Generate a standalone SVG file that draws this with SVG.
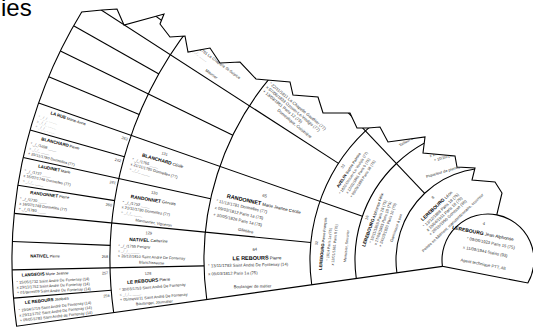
<svg xmlns="http://www.w3.org/2000/svg" width="533" height="329" viewBox="0 0 533 329">
<defs>
<style>
text{font-family:"Liberation Sans",Arial,sans-serif}
.ln{fill:none;stroke:#000;stroke-width:1.1}
.sn{font-weight:700;fill:#000}
.gn{fill:#000}
.d{fill:#333}
.ph{fill:#999}
.nm{fill:#333}
.m{text-anchor:middle}
.e{text-anchor:end}
</style>
<clipPath id="fan" clipPathUnits="userSpaceOnUse">
<path d="M488 260 L16.63 326.25 A476 476 0 0 1 81.71 12 L102 10 L117 9 L124 25 L157 16 L164 14 L160 24 L170 37 L185 36 L188 52 L210 48 L220 63 L240 62 L256 79 L267 80 L290 82 L293 95 L318 97 L323 113 L350 113 L357 128 L368 128 L380 127 L388 142 L425 137 L423 153 L455 156 L457 167 L475 168 L472 180 L495 182 L502 193 L496.78 214.85 Z"/>
</clipPath>
</defs>
<rect width="533" height="329" fill="#fff"/>
<text x="1" y="16" font-size="24" fill="#000">ies</text>

<g clip-path="url(#fan)">
<g transform="translate(488 260)">
<g id="connectors" class="ln">
<path d="M-91.10 12.80 A92 92 0 0 1 17.55 -90.31"/>
<path d="M-131.71 18.51 A133 133 0 0 1 25.38 -130.56"/>
<path d="M-176.27 24.77 A178 178 0 0 1 33.96 -174.73"/>
<path d="M-281.24 39.52 A284 284 0 0 1 54.19 -278.78"/>
<path d="M-374.32 52.61 A378 378 0 0 1 72.13 -371.06"/>
<path d="M-63.33 -66.73 L-327.66 -345.28"/>
<path d="M-125.56 -43.85 L-449.39 -156.93"/>
<path d="M-37.22 -127.69 L-133.20 -456.98"/>
<path d="M-177.14 -17.45 L-473.71 -46.66"/>
<path d="M-149.50 -96.62 L-399.77 -258.37"/>
<path d="M-88.66 -154.35 L-237.10 -412.74"/>
<path d="M-8.15 -177.81 L-21.80 -475.50"/>
<path d="M-283.94 5.89 L-475.90 9.86"/>
<path d="M-277.34 -61.17 L-464.83 -102.52"/>
<path d="M-255.13 -124.76 L-427.61 -209.10"/>
<path d="M-218.56 -181.35 L-366.32 -303.95"/>
<path d="M-169.73 -227.71 L-284.47 -381.65"/>
<path d="M-376.79 30.28 L-474.47 38.12"/>
<path d="M-377.72 -14.64 L-475.64 -18.43"/>
<path d="M-373.31 -59.34 L-470.10 -74.72"/>
<path d="M-363.64 -103.19 L-457.92 -129.95"/>
<path d="M-348.83 -145.60 L-439.27 -183.35"/>
<path d="M-329.10 -185.94 L-414.43 -234.15"/>
<path d="M-304.72 -223.67 L-383.73 -281.66"/>
<path d="M-276.04 -258.24 L-347.60 -325.19"/>
</g>

<!-- generation 6 -->
<g id="p256" transform="rotate(-6.297)" font-size="3.8">
<text class="m" x="-443" y="-7"><tspan class="sn" font-size="4.4">LE REBOURS</tspan><tspan class="gn"> Jacques</tspan></text>
<text class="nm e" x="-380" y="-5">256</text>
<text class="d" x="-472" y="0">° 19/04/1719 Saint André De Fontenay (14)</text>
<text class="d" x="-472" y="5">x 29/11/1752 Saint André De Fontenay (14)</text>
<text class="d" x="-472" y="10">+ 09/05/1783 Saint André de Fontenay (14)</text>
</g>
<g id="p257" transform="rotate(-2.891)" font-size="3.8">
<text class="m" x="-443" y="-7"><tspan class="sn" font-size="4.4">LANGEOIS</tspan><tspan class="gn"> Marie Jeanne</tspan></text>
<text class="nm e" x="-380" y="-5">257</text>
<text class="d" x="-472" y="0">° 15/05/1732 Saint André De Fontenay (14)</text>
<text class="d" x="-472" y="5">x 29/11/1752 Saint André De Fontenay (14)</text>
<text class="d" x="-472" y="10">+ 01/germ/09 Saint André De Fontenay (14)</text>
</g>
<g id="p258" transform="rotate(0.516)" font-size="3.8">
<text class="m" x="-443" y="1.5"><tspan class="sn" font-size="4.4">NATIVEL</tspan><tspan class="gn"> Pierre</tspan></text>
<text class="nm e" x="-380" y="1.5">258</text>
</g>
<g id="p260" transform="rotate(7.328)" font-size="3.8">
<text class="m" x="-443" y="-7"><tspan class="sn" font-size="4.4">RANDONNET</tspan><tspan class="gn"> Pierre</tspan></text>
<text class="nm e" x="-380" y="-5">260</text>
<text class="d" x="-472" y="0">° _/_/1720 <tspan class="ph">____</tspan></text>
<text class="d" x="-472" y="5">x 16/07/1748 Dormelles (77)</text>
<text class="d" x="-472" y="10">+ _/_/1780 <tspan class="ph">____</tspan></text>
</g>
<g id="p261" transform="rotate(10.734)" font-size="3.8">
<text class="m" x="-443" y="-7"><tspan class="sn" font-size="4.4">LAUDINET</tspan><tspan class="gn"> Marie</tspan></text>
<text class="nm e" x="-380" y="-5">261</text>
<text class="d" x="-472" y="0">° _/_/1727 <tspan class="ph">____</tspan></text>
<text class="d" x="-472" y="5">x 16/07/1748 Dormelles (77)</text>
<text class="ph" x="-472" y="10">+ _/_/_ ____</text>
</g>
<g id="p262" transform="rotate(14.141)" font-size="3.8">
<text class="m" x="-443" y="-7"><tspan class="sn" font-size="4.4">BLANCHARD</tspan><tspan class="gn"> Pierre</tspan></text>
<text class="nm e" x="-380" y="-5">262</text>
<text class="d" x="-472" y="0">° _/_/1698 <tspan class="ph">____</tspan></text>
<text class="ph" x="-472" y="5">x _/_/_ ____</text>
<text class="d" x="-472" y="10">+ 29/11/1780 Dormelles (77)</text>
</g>
<g id="p263" transform="rotate(17.547)" font-size="3.8">
<text class="m" x="-443" y="-7"><tspan class="sn" font-size="4.4">LA RUE</tspan><tspan class="gn"> Marie-Anne</tspan></text>
<text class="nm e" x="-380" y="-5">263</text>
<text class="ph" x="-472" y="0">° _/_/_ ____</text>
<text class="ph" x="-472" y="5">x _/_/_ ____</text>
<text class="ph" x="-472" y="10">+ _/_/_ ____</text>
</g>

<!-- generation 5 -->
<g id="p128" transform="rotate(-4.594)" font-size="3.9">
<text class="nm m" x="-340" y="-12.5">128</text>
<text class="m" x="-340" y="-5"><tspan class="sn" font-size="4.8">LE REBOURS</tspan><tspan class="gn" font-size="4"> Pierre</tspan></text>
<text class="d" x="-370" y="1.5">° 30/03/1753 Saint André De Fontenay</text>
<text class="ph" x="-370" y="6.5">x _/_/_ ____</text>
<text class="d" x="-370" y="11.5">+ 05/mess/11 Saint André De Fontenay</text>
<text class="d m" x="-336" y="17">Boulanger, Journalier</text>
</g>
<g id="p129" transform="rotate(2.219)" font-size="3.9">
<text class="nm m" x="-340" y="-12.5">129</text>
<text class="m" x="-340" y="-5"><tspan class="sn" font-size="4.8">NATIVEL</tspan><tspan class="gn" font-size="4"> Catherine</tspan></text>
<text class="d" x="-370" y="1.5">° _/_/1755 Perigny</text>
<text class="ph" x="-370" y="6.5">x _/_/_ ____</text>
<text class="d" x="-370" y="11.5">+ 26/12/1810 Saint André De Fontenay</text>
<text class="d m" x="-336" y="17">Blanchisseuse</text>
</g>
<g id="p130" transform="rotate(9.031)" font-size="3.9">
<text class="nm m" x="-340" y="-12.5">130</text>
<text class="m" x="-340" y="-5"><tspan class="sn" font-size="4.8">RANDONNET</tspan><tspan class="gn" font-size="4"> Gervais</tspan></text>
<text class="d" x="-370" y="1.5">° _/_/1752 <tspan class="ph">____</tspan></text>
<text class="d" x="-370" y="6.5">x 21/11/1780 Dormelles (77)</text>
<text class="ph" x="-370" y="11.5">+ _/_/_ ____</text>
<text class="d m" x="-336" y="17">Manouvrier, Vigneron</text>
</g>
<g id="p131" transform="rotate(15.844)" font-size="3.9">
<text class="nm m" x="-340" y="-12.5">131</text>
<text class="m" x="-340" y="-5"><tspan class="sn" font-size="4.8">BLANCHARD</tspan><tspan class="gn" font-size="4"> Cécile</tspan></text>
<text class="d" x="-370" y="1.5">° _/_/1765 <tspan class="ph">____</tspan></text>
<text class="d" x="-370" y="6.5">x 21/11/1780 Dormelles (77)</text>
<text class="ph" x="-370" y="11.5">+ _/_/_ ____</text>
</g>
<g id="p134" transform="rotate(36.281)" font-size="3.9">
<text class="d" x="-366" y="1.5">° _/_/1781 La Chapelle St-Sulpice</text>
<text class="ph" x="-366" y="6.5">x _/_/_ ____</text>
<text class="d m" x="-333" y="15">Meunier</text>
</g>

<!-- generation 4 -->
<g id="p64" transform="rotate(-1.1875)" font-size="4.2">
<text class="nm m" x="-233" y="-14">64</text>
<text class="m" x="-231" y="-5"><tspan class="sn" font-size="5.5">LE REBOURS</tspan><tspan class="gn" font-size="4.3"> Pierre</tspan></text>
<text class="d" x="-280" y="1.5">° 13/11/1783 Saint André De Fontenay (14)</text>
<text class="d" x="-280" y="9.5">x 09/03/1812 Paris 1a (75)</text>
<text class="d m" x="-236" y="23">Boulanger de métier</text>
</g>
<g id="p65" transform="rotate(12.4375)" font-size="4.2">
<text class="nm m" x="-232" y="-13">65</text>
<text class="m" x="-231" y="-4.5"><tspan class="sn" font-size="5.5">RANDONNET</tspan><tspan class="gn" font-size="4.3"> Marie Jeanne Cécile</tspan></text>
<text class="d" x="-278" y="2">° 11/12/1781 Dormelles (77)</text>
<text class="d" x="-278" y="9">x 09/03/1812 Paris 1a (75)</text>
<text class="d" x="-278" y="16">+ 30/05/1826 Paris 1a (75)</text>
<text class="d m" x="-243" y="25">Giletière</text>
</g>
<g id="p67" transform="rotate(39.6875)" font-size="4.2">
<text class="d" x="-281" y="4.5">° 22/11/1811 La Chapelle Gauthier (77)</text>
<text class="d" x="-281" y="9.5">x 07/06/1833 Ozouer-Le-Voulgis (77)</text>
<text class="d" x="-281" y="14.5">+ 13/09/1861 Paris 12 (75)</text>
<text class="d m" x="-236" y="20">Domestique, Cuisinière</text>
</g>

<!-- generation 3 -->
<g id="p32" transform="rotate(-84.375)" font-size="3.7">
<text class="nm m" x="0" y="-171">32</text>
<text class="m" x="0" y="-164.5"><tspan class="sn" font-size="4.2">LEREBOURG</tspan><tspan class="gn"> Pierre François</tspan></text>
<text class="d m" x="0" y="-158.5">° 1814 Paris 1a (75)</text>
<text class="d m" x="0" y="-153">x 12/01/1861 Paris 9 (75)</text>
<text class="d m" x="0" y="-141">Menuisier, Serrurier</text>
</g>
<g id="p33" transform="rotate(-57.125)" font-size="3.7">
<text class="nm m" x="0" y="-171.5">33</text>
<text class="m" x="0" y="-164.5"><tspan class="sn" font-size="4.2">AVELIN</tspan><tspan class="gn"> Sophie Palmire</tspan></text>
<text class="d m" x="0" y="-159">° 1820 Ozouer-Le-Voulgis (77)</text>
<text class="d m" x="0" y="-153.5">x 12/01/1861 Paris 9 (75)</text>
<text class="d m" x="0" y="-148">+ 09/05/1880 Paris 18 (75)</text>
</g>
<g id="p34" transform="rotate(-29.875)" font-size="3.9">
<text class="d" x="-20" y="-142">Tailleur de pierres</text>
</g>

<!-- generation 2 -->
<g id="p16" transform="rotate(-70.75)" font-size="3.9">
<text class="nm m" x="0" y="-127">16</text>
<text class="m" x="0" y="-120.5"><tspan class="sn" font-size="4.6">LEREBOURG</tspan><tspan class="gn" font-size="4"> Alphonse Félix</tspan></text>
<text class="d m" x="0" y="-115">° 19/11/1865 Paris 18 (75)</text>
<text class="d m" x="0" y="-110">x 17/08/1893 Paris 18 (75)</text>
<text class="d m" x="0" y="-105">+ 24/03/1920 Paris 10 (75)</text>
<text class="d m" x="0" y="-96">Garnisseur à pex</text>
</g>
<g id="p17" transform="rotate(-16.25)" font-size="3.9">
<text class="d" x="-27" y="-115">x 17/08/1893 Paris 18 (75)</text>
<text class="d" x="-24" y="-109.5">+ 10/10/1918 Paris 18 (75)</text>
<text class="d" x="-36" y="-96">Piqueteur de pierres</text>
</g>

<!-- generation 1 -->
<g id="p8" transform="rotate(-43.5)" font-size="4.1">
<text class="nm m" x="3" y="-82">8</text>
<text class="m" x="0" y="-73"><tspan class="sn" font-size="4.8">LEREBOURG</tspan><tspan class="gn" font-size="4.2"> Léon</tspan></text>
<text class="d m" x="0" y="-67">° 13/12/1888 Paris 18 (75)</text>
<text class="d m" x="0" y="-62">x 15/04/1911 Paris 18 (75)</text>
<text class="d m" x="0" y="-57">+ 28/10/1950 Gonesse (95)</text>
<text class="d m" x="0" y="-50" font-size="3.9">Peintre en bâtiment, manutentionnaire, couvreur</text>
</g>
</g>
</g>

<path id="outline" class="ln" d="M442.45 266.4 L16.63 326.25 A476 476 0 0 1 81.71 12 L102 10 L117 9 L124 25 L157 16 L164 14 L160 24 L170 37 L185 36 L188 52 L210 48 L220 63 L240 62 L256 79 L267 80 L290 82 L293 95 L318 97 L323 113 L350 113 L357 128 L368 128 L380 127 L388 142 L425 137 L423 153 L455 156 L457 167 L475 168 L472 180 L495 182 L502 193 L496.78 214.85"/>

<g id="p4">
<path class="ln" d="M442.45 266.4 A46 46 0 1 1 527.84 283 Z"/>
<g transform="translate(488 260) rotate(11)" font-size="4.2">
<text class="nm m" x="-11" y="-33.5">4</text>
<text class="m" x="-10" y="-23.5"><tspan class="sn" font-size="5">LEREBOURG</tspan><tspan class="gn" font-size="4.5"> Jean Alphonse</tspan></text>
<text class="d" x="-25" y="-15.8">° 09/06/1923 Paris 15 (75)</text>
<text class="d" x="-27" y="-6.4">x 11/09/1944 Stains (93)</text>
<text class="d m" x="-4" y="6.5">Agent technique PTT, Alt</text>
</g>
</g>
</svg>
